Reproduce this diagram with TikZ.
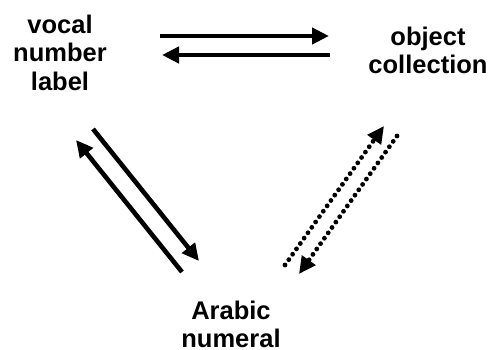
\documentclass[tikz,border=0pt]{standalone}
\usepackage{fontspec}
\setmainfont{Liberation Sans}
\usetikzlibrary{arrows.meta}
\begin{document}
\begin{tikzpicture}[x=1pt,y=-1pt,
  lbl/.style={font=\fontsize{25.5}{28.5}\selectfont\bfseries, align=center, inner sep=0pt, anchor=north},
  solidarr/.style={line width=4.6pt, -{Triangle[length=17pt,width=16pt]}},
  dotarr/.style={line width=4.8pt, line cap=round, dash pattern=on 0pt off 6.6pt, -{Triangle[length=17pt,width=16pt]}}
]
\useasboundingbox (0,0) rectangle (491,350);
\node[lbl] (vocal) at (60,14.7) {vocal\\number\\label};
\node[lbl] (object) at (428,26.7) {object\\collection};
\node[lbl] (arabic) at (231,300.7) {Arabic\\numeral};
% endpoints
\coordinate (h1s) at (160,36);
\coordinate (h1e) at (329,36);
\coordinate (h2s) at (330,55);
\coordinate (h2e) at (162,55);
\coordinate (l1s) at (93,129);
\coordinate (l1e) at (199,261);
\coordinate (l2s) at (182,272);
\coordinate (l2e) at (76,140);
\coordinate (r1s) at (285,265);
\coordinate (r1e) at (384,126);
\coordinate (r2s) at (397,136);
\coordinate (r2e) at (299,274);
\draw[solidarr] (h1s) -- (h1e);
\draw[solidarr] (h2s) -- (h2e);
\draw[solidarr] (l1s) -- (l1e);
\draw[solidarr] (l2s) -- (l2e);
\draw[dotarr] (r1s) -- (r1e);
\draw[dotarr] (r2s) -- (r2e);
\end{tikzpicture}
\end{document}
